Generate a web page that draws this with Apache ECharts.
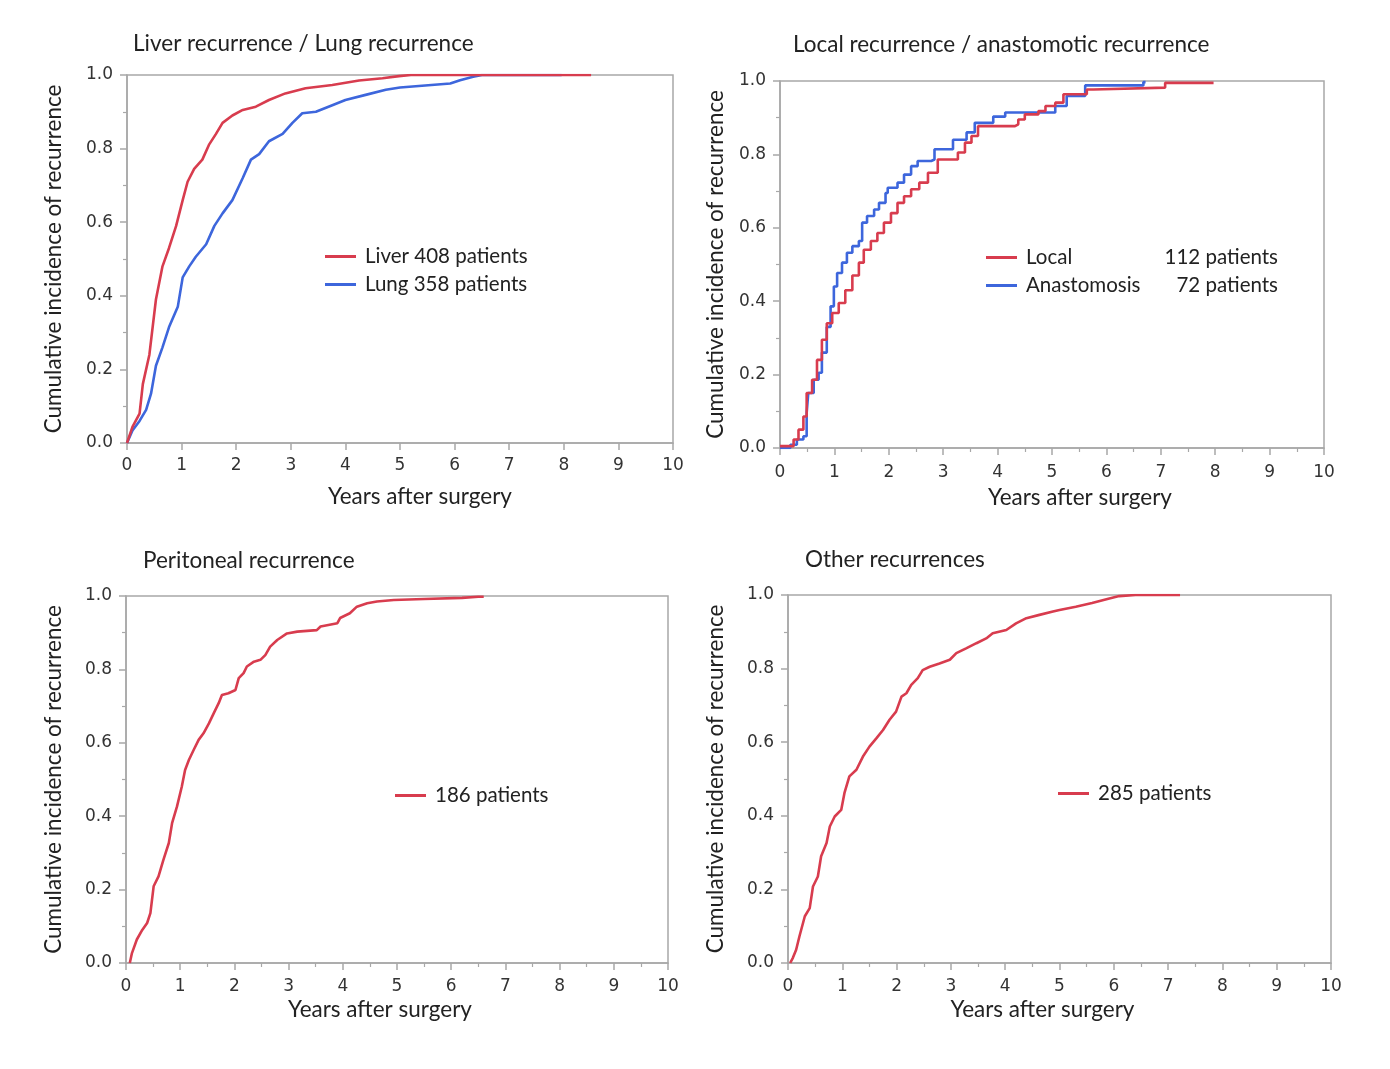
<!DOCTYPE html>
<html>
<head>
<meta charset="utf-8">
<script src="https://cdn.jsdelivr.net/npm/echarts@6/dist/echarts.min.js"></script>
<style>
  html, body { margin: 0; padding: 0; background: #fff; }
  #chart { width: 1390px; height: 1069px; }
</style>
</head>
<body>
<div id="chart"></div>
<script>
// cumulative incidence curves (years, proportion)
var liverT = [0, 0.1, 0.23, 0.29, 0.41, 0.53, 0.65, 0.77, 0.9, 1.02, 1.11, 1.23, 1.38, 1.5, 1.63, 1.75, 1.93, 2.12, 2.36, 2.6, 2.9, 3.27, 3.76, 4.25, 4.68, 4.98, 5.2, 8.5];
var liverV = [0, 0.044, 0.08, 0.16, 0.24, 0.39, 0.48, 0.53, 0.59, 0.66, 0.71, 0.745, 0.77, 0.81, 0.84, 0.87, 0.89, 0.905, 0.914, 0.932, 0.95, 0.964, 0.973, 0.985, 0.991, 0.997, 1, 1];
var lungT = [0, 0.1, 0.23, 0.35, 0.44, 0.53, 0.65, 0.77, 0.93, 1.02, 1.14, 1.26, 1.45, 1.6, 1.75, 1.93, 2.12, 2.27, 2.42, 2.6, 2.85, 3.03, 3.21, 3.46, 3.76, 4.0, 4.37, 4.74, 5.0, 5.92, 6.1, 6.34, 6.5, 7.96];
var lungV = [0, 0.034, 0.06, 0.09, 0.134, 0.21, 0.26, 0.315, 0.37, 0.45, 0.48, 0.506, 0.54, 0.59, 0.624, 0.66, 0.72, 0.77, 0.785, 0.82, 0.84, 0.87, 0.896, 0.9, 0.918, 0.932, 0.946, 0.96, 0.966, 0.977, 0.986, 0.995, 1, 1];

var localT = [0, 0.25, 0.34, 0.43, 0.49, 0.59, 0.68, 0.77, 0.86, 0.96, 1.08, 1.2, 1.33, 1.45, 1.54, 1.67, 1.79, 1.91, 2.04, 2.16, 2.28, 2.41, 2.56, 2.72, 2.9, 3.27, 3.4, 3.52, 3.64, 4.32, 4.38, 4.5, 4.75, 4.88, 5.06, 5.21, 5.64, 5.76, 7.08, 7.97];
var localV = [0.005, 0.023, 0.05, 0.086, 0.15, 0.186, 0.24, 0.295, 0.34, 0.368, 0.395, 0.43, 0.47, 0.505, 0.54, 0.564, 0.586, 0.614, 0.64, 0.668, 0.686, 0.705, 0.723, 0.75, 0.786, 0.805, 0.832, 0.85, 0.877, 0.882, 0.895, 0.909, 0.918, 0.932, 0.941, 0.964, 0.977, 0.982, 0.995, 0.995];
var anaT = [0, 0.19, 0.31, 0.43, 0.49, 0.52, 0.62, 0.71, 0.77, 0.86, 0.93, 0.99, 1.05, 1.14, 1.23, 1.33, 1.45, 1.51, 1.6, 1.73, 1.82, 1.94, 1.98, 2.16, 2.28, 2.41, 2.53, 2.78, 2.84, 3.18, 3.43, 3.58, 3.92, 4.14, 5.06, 5.27, 5.61, 6.68, 6.72];
var anaV = [0, 0.009, 0.023, 0.032, 0.095, 0.15, 0.186, 0.205, 0.26, 0.33, 0.386, 0.44, 0.477, 0.505, 0.532, 0.55, 0.564, 0.614, 0.632, 0.65, 0.668, 0.695, 0.709, 0.723, 0.745, 0.768, 0.782, 0.786, 0.814, 0.84, 0.86, 0.886, 0.903, 0.914, 0.932, 0.959, 0.988, 0.997, 0.997];

var periT = [0.07, 0.11, 0.2, 0.3, 0.39, 0.45, 0.51, 0.6, 0.69, 0.79, 0.85, 0.94, 1.03, 1.09, 1.16, 1.25, 1.34, 1.43, 1.53, 1.62, 1.71, 1.77, 1.89, 2.02, 2.08, 2.17, 2.23, 2.36, 2.48, 2.57, 2.66, 2.79, 2.97, 3.16, 3.52, 3.59, 3.9, 3.95, 4.13, 4.26, 4.45, 4.63, 4.94, 5.5, 6.2, 6.5, 6.6];
var periV = [0, 0.027, 0.064, 0.09, 0.109, 0.136, 0.209, 0.236, 0.281, 0.327, 0.381, 0.426, 0.481, 0.526, 0.553, 0.581, 0.608, 0.626, 0.653, 0.681, 0.708, 0.73, 0.735, 0.744, 0.776, 0.79, 0.808, 0.821, 0.826, 0.839, 0.862, 0.88, 0.898, 0.903, 0.907, 0.917, 0.926, 0.94, 0.953, 0.971, 0.98, 0.985, 0.989, 0.992, 0.995, 0.998, 0.998];
var otherT = [0.04, 0.09, 0.15, 0.21, 0.31, 0.4, 0.46, 0.55, 0.61, 0.71, 0.77, 0.86, 0.98, 1.04, 1.13, 1.26, 1.38, 1.5, 1.63, 1.75, 1.87, 1.99, 2.09, 2.18, 2.27, 2.39, 2.48, 2.61, 2.79, 2.98, 3.1, 3.28, 3.47, 3.65, 3.77, 4.02, 4.2, 4.39, 4.63, 4.88, 5.0, 5.3, 5.6, 5.9, 6.1, 6.4, 7.22];
var otherV = [0, 0.014, 0.036, 0.072, 0.127, 0.149, 0.208, 0.235, 0.29, 0.326, 0.371, 0.398, 0.416, 0.462, 0.507, 0.525, 0.561, 0.588, 0.611, 0.633, 0.661, 0.683, 0.724, 0.733, 0.756, 0.774, 0.796, 0.805, 0.814, 0.824, 0.842, 0.855, 0.869, 0.882, 0.896, 0.905, 0.923, 0.937, 0.946, 0.955, 0.959, 0.968, 0.978, 0.99, 0.997, 1, 1];

var xTicks = ['0', '1', '2', '3', '4', '5', '6', '7', '8', '9', '10'];
var panelTitles = ['Liver recurrence / Lung recurrence', 'Local recurrence / anastomotic recurrence', 'Peritoneal recurrence', 'Other recurrences'];

var RED = '#d83c4e';
var BLUE = '#3d66dc';
var GRAY = '#a8a8a8';
var TXT = '#222';

function pairs(t, v) {
    var out = [];
    for (var i = 0; i < t.length; i++) out.push([t[i], v[i]]);
    return out;
}

var grids = [
    { left: 127, top: 75, width: 546, height: 368 },
    { left: 780, top: 81, width: 544, height: 367 },
    { left: 126, top: 596, width: 542, height: 367 },
    { left: 788, top: 595, width: 543, height: 368 }
];
grids.forEach(function (g) {
    g.show = true;
    g.borderColor = GRAY;
    g.borderWidth = 1.5;
    g.backgroundColor = '#fff';
});

// the x titles sit a little off the axis centre in the figure
var xNameGap = [42, 38, 35, 35];
var xNamePad = [[0, 0, 0, 40], [0, 0, 0, 56], [0, 34, 0, 0], [0, 34, 0, 0]];
var xLabelMargin = [14, 16, 15, 15];
var yNameGap = [62, 53, 61, 61];

var xAxes = grids.map(function (g, i) {
    return {
        type: 'value', gridIndex: i, min: 0, max: 10, interval: 1,
        name: 'Years after surgery', nameLocation: 'middle', nameGap: xNameGap[i],
        nameTextStyle: { fontFamily: 'Lato', fontSize: 22.5, color: TXT, padding: xNamePad[i] },
        axisLine: { show: true, lineStyle: { color: GRAY, width: 1.5 } },
        axisTick: { show: true, inside: false, length: 7, lineStyle: { color: GRAY, width: 1.5 } },
        minorTick: { show: i > 0, splitNumber: 2, length: 4, lineStyle: { color: GRAY, width: 1.2 } },
        splitLine: { show: false },
        axisLabel: {
            margin: xLabelMargin[i], fontFamily: 'DejaVu Sans', fontSize: 17, color: '#333',
            formatter: function (v) { return xTicks[Math.round(v)]; }
        }
    };
});

var yAxes = grids.map(function (g, i) {
    return {
        type: 'value', gridIndex: i, min: 0, max: 1, interval: 0.2,
        name: 'Cumulative incidence of recurrence', nameLocation: 'middle', nameGap: yNameGap[i],
        nameTextStyle: { fontFamily: 'Lato', fontSize: 22.5, color: TXT },
        axisLine: { show: true, lineStyle: { color: GRAY, width: 1.5 } },
        axisTick: { show: true, inside: false, length: 7, lineStyle: { color: GRAY, width: 1.5 } },
        minorTick: { show: true, splitNumber: 2, length: 4, lineStyle: { color: GRAY, width: 1.2 } },
        splitLine: { show: false },
        axisLabel: {
            margin: 14, fontFamily: 'DejaVu Sans', fontSize: 17, color: '#333',
            formatter: function (v) { return v.toFixed(1); }
        }
    };
});

var titlePos = [[133, 32], [793, 33], [143, 549], [805, 548]];
var titles = panelTitles.map(function (t, i) {
    return {
        text: t, left: titlePos[i][0], top: titlePos[i][1], padding: 0,
        textStyle: { fontFamily: 'Lato', fontSize: 22.5, fontWeight: 'normal', color: TXT }
    };
});

function curve(name, t, v, color, idx, step) {
    return {
        name: name, type: 'line', xAxisIndex: idx, yAxisIndex: idx,
        data: pairs(t, v), step: step ? 'end' : false,
        showSymbol: false, symbol: 'none', silent: true, animation: false,
        lineStyle: { color: color, width: 2.6 },
        itemStyle: { color: color }, z: color === RED ? 3 : 2
    };
}

var legendText = { fontFamily: 'Lato', fontSize: 20.5, color: TXT, padding: [0, 0, 0, 4] };
function legend(names, left, top, extra) {
    var l = {
        data: names, orient: 'vertical', left: left, top: top, padding: 0,
        icon: 'rect', itemWidth: 31, itemHeight: 3, itemGap: 7,
        textStyle: Object.assign({}, legendText), selectedMode: false
    };
    return Object.assign(l, extra || {});
}

var option = {
    backgroundColor: '#fff',
    animation: false,
    title: titles,
    grid: grids,
    xAxis: xAxes,
    yAxis: yAxes,
    legend: [
        legend(['Liver 408 patients', 'Lung 358 patients'], 325, 246),
        legend(['Local', 'Anastomosis'], 986, 247, {
            formatter: function (n) {
                var c = n === 'Local' ? '112 patients' : '72 patients';
                return '{n|' + n + '}{c|' + c + '}';
            },
            textStyle: Object.assign({}, legendText, {
                rich: {
                    n: { fontFamily: 'Lato', fontSize: 20.5, color: TXT, width: 134 },
                    c: { fontFamily: 'Lato', fontSize: 20.5, color: TXT, width: 118, align: 'right' }
                }
            })
        }),
        legend(['186 patients'], 395, 785),
        legend(['285 patients'], 1058, 783)
    ],
    series: [
        curve('Lung 358 patients', lungT, lungV, BLUE, 0, false),
        curve('Liver 408 patients', liverT, liverV, RED, 0, false),
        curve('Anastomosis', anaT, anaV, BLUE, 1, true),
        curve('Local', localT, localV, RED, 1, true),
        curve('186 patients', periT, periV, RED, 2, false),
        curve('285 patients', otherT, otherV, RED, 3, false)
    ]
};

var myChart = echarts.init(document.getElementById('chart'), null, { renderer: 'canvas' });
option && myChart.setOption(option);
</script>
</body>
</html>
